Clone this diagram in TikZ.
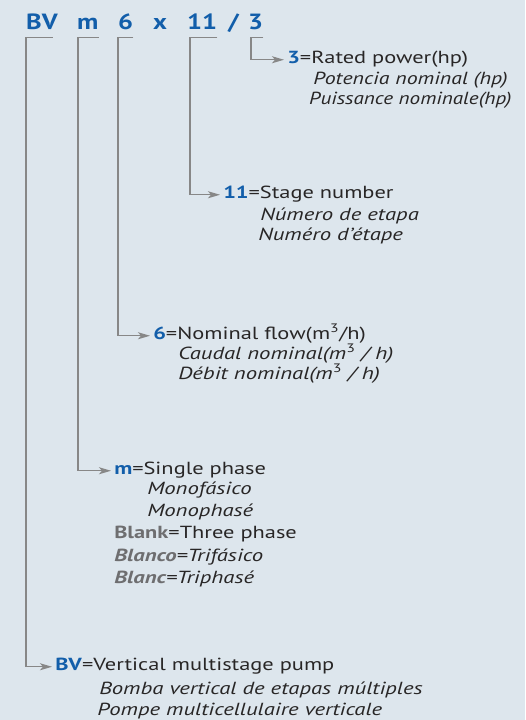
\documentclass[tikz,border=0pt]{standalone}
\usepackage{fontspec}
\setmainfont{PT Sans}
\usetikzlibrary{arrows.meta}

\definecolor{bgblue}{RGB}{221,230,237}
\definecolor{codeblue}{RGB}{18,94,170}
\definecolor{txtdark}{RGB}{40,38,38}
\definecolor{linegray}{RGB}{135,135,135}
\definecolor{blankgray}{RGB}{110,110,112}

\newcommand{\pcode}[1]{\textcolor{codeblue}{\textbf{#1}}}
\newcommand{\pblank}[1]{\textcolor{blankgray}{\textbf{#1}}}

\begin{document}
\begin{tikzpicture}[x=1pt,y=-1pt,
  head/.style={anchor=base west, inner sep=0pt, xscale=1.2, text=codeblue, font=\fontsize{22}{22}\selectfont\bfseries},
  desc/.style={anchor=base west, inner sep=0pt, xscale=1.28, text=txtdark, font=\fontsize{17.5}{17.5}\selectfont, text height=1.3ex, text depth=0pt},
  sub/.style={anchor=base west, inner sep=0pt, xscale=1.3, text=txtdark, font=\fontsize{17.5}{17.5}\selectfont\itshape},
  link/.style={draw=linegray, line width=1.2pt, -{Stealth[length=12pt,width=7pt,inset=3pt]}, shorten >=3pt}]

\useasboundingbox (0,0) rectangle (525,720);
\fill[bgblue] (0,0) rectangle (525,720);

% model code
\node (hBV) at (26,29) [head]{BV};
\node (hm) at (77,29) [head]{m};
\node (h6) at (118,29) [head]{6};
\node (hx) at (153,29) [head]{x};
\node (h11) at (187,29) [head]{11};
\node (hsl) at (228,29) [head]{/};
\node (h3) at (248,29) [head]{3};

% meanings
\node (d3) at (287,63) [desc]{\pcode{3}=Rated power(hp)};
\node (d3-1) at (313,84) [sub, xscale=0.96]{Potencia nominal (hp)};
\node (d3-2) at (309,104) [sub, xscale=0.93]{Puissance nominale(hp)};

\node (d11) at (223,198) [desc]{\pcode{11}=Stage number};
\node (d11-1) at (260,220) [sub]{Número de etapa};
\node (d11-2) at (258,240) [sub]{Numéro d'étape};

\node (d6) at (153,339) [desc]{\pcode{6}=Nominal flow(m\textsuperscript{3}/h)};
\node (d6-1) at (178,359) [sub]{Caudal nominal(m\textsuperscript{\upshape 3} / h)};
\node (d6-2) at (178,379) [sub]{Débit nominal(m\textsuperscript{\upshape 3} / h)};

\node (dm) at (114,474) [desc]{\pcode{m}=Single phase};
\node (dm-1) at (147,494) [sub]{Monofásico};
\node (dm-2) at (147,516) [sub]{Monophasé};
\node (dm-3) at (114,538) [desc]{\pblank{Blank}=Three phase};
\node (dm-4) at (114,561) [sub]{\pblank{Blanco}=Trifásico};
\node (dm-5) at (114,583) [sub]{\pblank{Blanc}=Triphasé};

\node (dBV) at (55,670) [desc]{\pcode{BV}=Vertical multistage pump};
\node (dBV-1) at (99,694) [sub]{Bomba vertical de etapas múltiples};
\node (dBV-2) at (97,715) [sub]{Pompe multicellulaire verticale};

% brackets
\draw [link] ([yshift=-8pt]h3.south east) -- ([yshift=-8pt,xshift=3pt]h3.south west) |- (d3.west);
\draw [link] ([yshift=-8pt]h11.south east) -- ([yshift=-8pt,xshift=3pt]h11.south west) |- (d11.west);
\draw [link] ([yshift=-8pt]h6.south east) -- ([yshift=-8pt]h6.south west) |- (d6.west);
\draw [link] ([yshift=-8pt]hm.south east) -- ([yshift=-8pt,xshift=1pt]hm.south west) |- (dm.west);
\draw [link] ([yshift=-8pt,xshift=-5pt]hBV.south east) -- ([yshift=-8pt]hBV.south west) |- (dBV.west);

\end{tikzpicture}
\end{document}
